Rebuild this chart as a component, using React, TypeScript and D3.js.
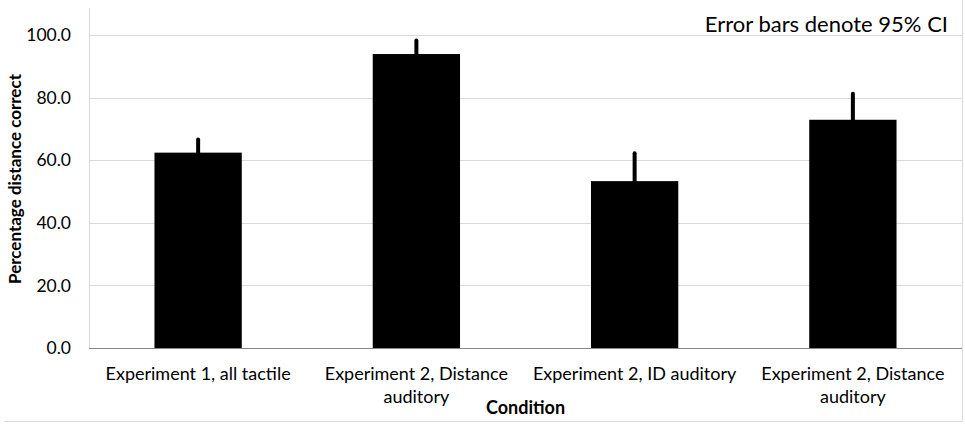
import { useEffect, useRef } from "react";
import * as d3 from "d3";

const categories = [
  "Experiment 1, all tactile",
  "Experiment 2, Distance auditory",
  "Experiment 2, ID auditory",
  "Experiment 2, Distance auditory",
];
const means = [62.4, 93.9, 53.3, 72.9];
const ci95 = [4.7, 4.8, 9.4, 8.8];
const yTicks = [0, 20, 40, 60, 80, 100];

const W = 965;
const H = 424;
const FONT = "Lato, 'Open Sans', sans-serif";

function App() {
  const ref = useRef<SVGSVGElement>(null);

  useEffect(() => {
    const svg = d3.select(ref.current);
    svg.selectAll("*").remove();

    const left = 89;
    const right = 962;
    const top = 8;
    const bottom = 348;

    const x = d3.scaleBand<number>()
      .domain(d3.range(categories.length))
      .range([left, right])
      .paddingInner(0.6)
      .paddingOuter(0.3);

    const y = d3.scaleLinear().domain([0, 108.6]).range([bottom, top]);

    // chart border (right and bottom edges visible)
    svg.append("line")
      .attr("x1", right + 0.5).attr("x2", right + 0.5)
      .attr("y1", 0).attr("y2", 421.5)
      .attr("stroke", "#d9d9d9");
    svg.append("line")
      .attr("x1", 4).attr("x2", right + 0.5)
      .attr("y1", 421.5).attr("y2", 421.5)
      .attr("stroke", "#d9d9d9");

    // gridlines
    svg.append("g")
      .selectAll("line")
      .data(yTicks.filter(d => d > 0))
      .join("line")
      .attr("x1", left).attr("x2", right)
      .attr("y1", d => Math.round(y(d)) + 0.5)
      .attr("y2", d => Math.round(y(d)) + 0.5)
      .attr("stroke", "#d9d9d9")
      .attr("stroke-width", 1);

    // y axis line
    svg.append("line")
      .attr("x1", left + 0.5).attr("x2", left + 0.5)
      .attr("y1", top).attr("y2", bottom)
      .attr("stroke", "#d9d9d9");

    // bars
    svg.append("g")
      .selectAll("rect")
      .data(means)
      .join("rect")
      .attr("x", (d, i) => x(i)!)
      .attr("y", d => y(d))
      .attr("width", x.bandwidth())
      .attr("height", d => y(0) - y(d))
      .attr("fill", "#000");

    // error bars
    svg.append("g")
      .selectAll("line")
      .data(means)
      .join("line")
      .attr("x1", (d, i) => x(i)! + x.bandwidth() / 2)
      .attr("x2", (d, i) => x(i)! + x.bandwidth() / 2)
      .attr("y1", (d, i) => y(d - ci95[i]))
      .attr("y2", (d, i) => y(d + ci95[i]) + 1.5)
      .attr("stroke", "#000")
      .attr("stroke-width", 4)
      .attr("stroke-linecap", "round");

    // baseline
    svg.append("line")
      .attr("x1", left).attr("x2", right)
      .attr("y1", Math.round(y(0)) + 0.5).attr("y2", Math.round(y(0)) + 0.5)
      .attr("stroke", "#868686");

    // y tick labels
    svg.append("g")
      .selectAll("text")
      .data(yTicks)
      .join("text")
      .attr("x", 71)
      .attr("y", d => y(d))
      .attr("dy", "0.35em")
      .attr("text-anchor", "end")
      .attr("font-family", FONT)
      .attr("font-size", 17.5)
      .attr("fill", "#000")
      .text(d => d.toFixed(1));

    // category labels with wrapping
    const maxW = x.step() - 2;
    const labels = svg.append("g")
      .selectAll("text")
      .data(categories)
      .join("text")
      .attr("x", (d, i) => x(i)! + x.bandwidth() / 2)
      .attr("y", 380)
      .attr("text-anchor", "middle")
      .attr("font-family", FONT)
      .attr("font-size", 18)
      .attr("fill", "#000");

    labels.each(function (d) {
      const t = d3.select(this);
      const cx = t.attr("x");
      const words = d.split(" ");
      let line: string[] = [];
      let tspan = t.append("tspan").attr("x", cx).attr("dy", 0);
      for (const w of words) {
        line.push(w);
        tspan.text(line.join(" "));
        if ((tspan.node() as SVGTSpanElement).getComputedTextLength() > maxW && line.length > 1) {
          line.pop();
          tspan.text(line.join(" "));
          line = [w];
          tspan = t.append("tspan").attr("x", cx).attr("dy", 23).text(w);
        }
      }
    });

    // axis titles
    svg.append("text")
      .attr("x", (left + right) / 2)
      .attr("y", 414)
      .attr("text-anchor", "middle")
      .attr("font-family", FONT)
      .attr("font-weight", "bold")
      .attr("font-size", 18)
      .text("Condition");

    svg.append("text")
      .attr("transform", `translate(21, ${(top + bottom) / 2 + 1}) rotate(-90)`)
      .attr("text-anchor", "middle")
      .attr("font-family", FONT)
      .attr("font-weight", "bold")
      .attr("font-size", 17)
      .text("Percentage distance correct");

    // note
    svg.append("text")
      .attr("x", 948)
      .attr("y", 31.5)
      .attr("text-anchor", "end")
      .attr("font-family", FONT)
      .attr("font-size", 22)
      .text("Error bars denote 95% CI");
  }, []);

  return (
    <svg
      ref={ref}
      width={W}
      height={H}
      style={{ position: "absolute", left: 0, top: 0, background: "#fff" }}
    />
  );
}

export default App;
